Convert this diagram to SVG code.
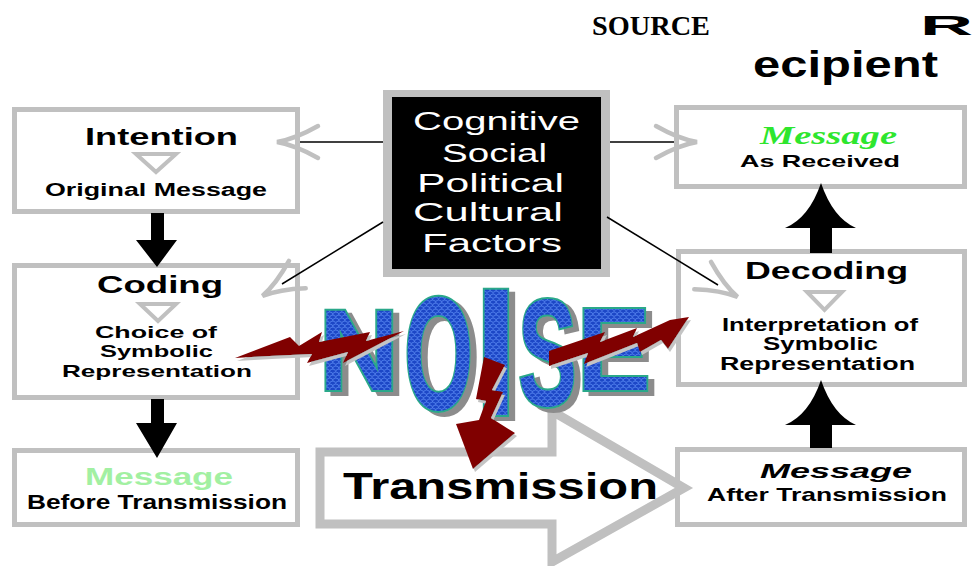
<svg xmlns="http://www.w3.org/2000/svg" width="978" height="566" viewBox="0 0 978 566">
  <style>
    .box { fill: #ffffff; stroke: #c0c0c0; stroke-width: 5; }
    .tri { fill: none; stroke: #c0c0c0; stroke-width: 4; stroke-linejoin: miter; }
    .lbl { font-family: "Liberation Sans", Arial, sans-serif; font-weight: bold; fill: #000; }
    .fac { font-family: "Liberation Sans", Arial, sans-serif; font-size: 26px; fill: #ffffff; }
    .link { stroke: #000; stroke-width: 1.5; fill: none; }
    .blk { fill: #000; }
    .bolt { fill: #800000; }
    .noise { font-family: "Liberation Sans", Arial, sans-serif; font-weight: bold; fill: url(#scales); stroke: #2aa88a; stroke-width: 4; paint-order: stroke; }
  </style>
  <defs>
    <!-- open grey chevron used at the end of each factor link -->
    <marker id="chev" markerUnits="userSpaceOnUse" viewBox="-46 -20 50 40" markerWidth="50" markerHeight="40" refX="-23" refY="0" orient="auto" overflow="visible">
      <path d="M-41,-16 Q-18,-3 0,0 Q-18,3 -41,16" fill="none" stroke="#c0c0c0" stroke-width="4.5" stroke-linecap="round"/>
    </marker>
    <!-- blue scale texture for the NOISE lettering (drawn in the x-compressed text space) -->
    <pattern id="scales" patternUnits="userSpaceOnUse" width="11" height="6">
      <rect width="11" height="6" fill="#1d46c6"/>
      <path d="M0,3 A5.5,3 0 0 1 11,3 M-5.5,6 A5.5,3 0 0 1 5.5,6 M5.5,6 A5.5,3 0 0 1 16.5,6" fill="none" stroke="#5d8ef5" stroke-width="0.9"/>
    </pattern>
    <filter id="dropGray" x="-10%" y="-10%" width="130%" height="130%">
      <feFlood flood-color="#8c8c8c"/>
      <feComposite in2="SourceAlpha" operator="in"/>
      <feOffset dx="6" dy="4" result="sh"/>
      <feMerge><feMergeNode in="sh"/><feMergeNode in="SourceGraphic"/></feMerge>
    </filter>
    <filter id="dropLight" x="-10%" y="-10%" width="130%" height="130%">
      <feFlood flood-color="#c4c4c4"/>
      <feComposite in2="SourceAlpha" operator="in"/>
      <feOffset dx="2" dy="3" result="sh"/>
      <feMerge><feMergeNode in="sh"/><feMergeNode in="SourceGraphic"/></feMerge>
    </filter>
  </defs>

  <rect width="978" height="566" fill="#ffffff"/>

  <!-- headings -->
  <g id="heading-source">
    <text x="592" y="35" font-family="'Liberation Serif', 'Times New Roman', serif" font-weight="bold" font-size="28" textLength="118" lengthAdjust="spacingAndGlyphs">SOURCE</text>
  </g>
  <g id="heading-recipient">
    <text class="lbl" x="920" y="35" font-size="28" textLength="53" lengthAdjust="spacingAndGlyphs">R</text>
    <text class="lbl" x="753" y="77" font-size="36" textLength="185" lengthAdjust="spacingAndGlyphs">ecipient</text>
  </g>

  <!-- source side -->
  <g id="intention">
    <rect class="box" x="14.5" y="109.5" width="283" height="102"/>
    <text class="lbl" x="85" y="145" font-size="24" textLength="153" lengthAdjust="spacingAndGlyphs">Intention</text>
    <path class="tri" d="M136,154 H176 L156,172 Z"/>
    <text class="lbl" x="45" y="196" font-size="18" textLength="222" lengthAdjust="spacingAndGlyphs">Original Message</text>
  </g>
  <g id="coding">
    <rect class="box" x="14.5" y="265.5" width="283" height="132"/>
    <text class="lbl" x="97" y="293" font-size="24" textLength="126" lengthAdjust="spacingAndGlyphs">Coding</text>
    <path class="tri" d="M140,304 H176 L158,321 Z"/>
    <text class="lbl" x="95" y="338" font-size="17" textLength="122" lengthAdjust="spacingAndGlyphs">Choice of</text>
    <text class="lbl" x="100" y="357" font-size="17" textLength="113" lengthAdjust="spacingAndGlyphs">Symbolic</text>
    <text class="lbl" x="62" y="377" font-size="17" textLength="190" lengthAdjust="spacingAndGlyphs">Representation</text>
  </g>
  <g id="before-transmission">
    <rect class="box" x="14.5" y="450.5" width="283" height="74"/>
    <text class="lbl" x="85" y="485" font-size="23" style="fill:#a2f0a2" textLength="148" lengthAdjust="spacingAndGlyphs">Message</text>
    <text class="lbl" x="27" y="509" font-size="21" textLength="260" lengthAdjust="spacingAndGlyphs">Before Transmission</text>
  </g>

  <!-- recipient side -->
  <g id="as-received">
    <rect class="box" x="676.5" y="107.5" width="288" height="79"/>
    <text x="760" y="144" font-family="'Liberation Serif', 'Times New Roman', serif" font-weight="bold" font-style="italic" font-size="25" fill="#2ee62e" textLength="137" lengthAdjust="spacingAndGlyphs">Message</text>
    <text class="lbl" x="740" y="167" font-size="17" textLength="160" lengthAdjust="spacingAndGlyphs">As Received</text>
  </g>
  <g id="decoding">
    <rect class="box" x="678.5" y="251.5" width="286" height="133"/>
    <text class="lbl" x="745" y="279" font-size="23" textLength="163" lengthAdjust="spacingAndGlyphs">Decoding</text>
    <path class="tri" d="M807,292 H842 L824.5,310 Z"/>
    <text class="lbl" x="722" y="331" font-size="18" textLength="196" lengthAdjust="spacingAndGlyphs">Interpretation of</text>
    <text class="lbl" x="763" y="350" font-size="18" textLength="115" lengthAdjust="spacingAndGlyphs">Symbolic</text>
    <text class="lbl" x="720" y="370" font-size="18" textLength="195" lengthAdjust="spacingAndGlyphs">Representation</text>
  </g>
  <g id="after-transmission">
    <rect class="box" x="677.5" y="449.5" width="287" height="75"/>
    <text class="lbl" x="760" y="478" font-size="21" font-style="italic" textLength="152" lengthAdjust="spacingAndGlyphs">Message</text>
    <text class="lbl" x="707" y="501" font-size="19" textLength="240" lengthAdjust="spacingAndGlyphs">After Transmission</text>
  </g>

  <!-- central influences -->
  <g id="factors">
    <rect x="383" y="90" width="227" height="187" fill="#c0c0c0"/>
    <rect x="392" y="97" width="209" height="172" fill="#000000"/>
    <text class="fac" x="413" y="130" textLength="167" lengthAdjust="spacingAndGlyphs">Cognitive</text>
    <text class="fac" x="442" y="162" textLength="105" lengthAdjust="spacingAndGlyphs">Social</text>
    <text class="fac" x="417" y="192" textLength="147" lengthAdjust="spacingAndGlyphs">Political</text>
    <text class="fac" x="413" y="221" textLength="150" lengthAdjust="spacingAndGlyphs">Cultural</text>
    <text class="fac" x="422" y="252" textLength="140" lengthAdjust="spacingAndGlyphs">Factors</text>
  </g>

  <!-- connectors -->
  <g id="connectors">
    <line class="link" x1="383" y1="142" x2="300" y2="142" marker-end="url(#chev)"/>
    <line class="link" x1="610" y1="142" x2="674" y2="142" marker-end="url(#chev)"/>
    <line class="link" x1="383" y1="222" x2="282" y2="284" marker-end="url(#chev)"/>
    <line class="link" x1="607" y1="217" x2="718" y2="285" marker-end="url(#chev)"/>
    <!-- flow arrows -->
    <path class="blk" d="M151,213 H164 V240 H177 L157,267 L136,240 H151 Z"/>
    <path class="blk" d="M151,399 H164 V423 H177 L157,458 L136,423 H151 Z"/>
    <path class="blk" d="M810,253 V228 H785 Q809,218 821,183 Q833,218 856,228 H832 V253 Z"/>
    <path class="blk" d="M810,448 V425 H785 Q809,415 821,380 Q833,415 856,425 H832 V448 Z"/>
    <!-- transmission channel -->
    <path d="M320,452 H552 V411 L684,488 L552,562 V524 H320 Z" fill="none" stroke="#c0c0c0" stroke-width="9" stroke-linejoin="miter"/>
  </g>

  <g id="transmission">
    <text class="lbl" x="343" y="499" font-size="36" textLength="315" lengthAdjust="spacingAndGlyphs">Transmission</text>
  </g>

  <!-- noise: lettering set in an x-compressed space (scale 0.55) -->
  <g id="noise" filter="url(#dropGray)">
    <text class="noise" transform="scale(0.55,1)"><tspan x="580" y="390" font-size="115" textLength="145" lengthAdjust="spacingAndGlyphs">N</tspan><tspan x="734.5" y="409" font-size="162">O</tspan><tspan x="861.8" y="415" font-size="182" textLength="80" lengthAdjust="spacingAndGlyphs">I</tspan><tspan x="941.8" y="406" font-size="152" textLength="107" lengthAdjust="spacingAndGlyphs">S</tspan><tspan x="1049" y="390" font-size="116" textLength="134" lengthAdjust="spacingAndGlyphs">E</tspan></text>
  </g>

  <!-- interference bolts -->
  <g id="bolts" filter="url(#dropLight)">
    <path class="bolt" d="M235,358 L290,337 L299,346 L322,332 L319,342 L370,332 L366,341 L404,331 L343,363 L348,352 L307,363 L312,354 L270,356 Z"/>
    <path class="bolt" d="M549,351 L605,332 L600,342 L637,328 L633,337 L670,320 L689,317 L668,349 L661,340 L640,352 L637,343 L584,364 L588,353 L549,366 Z"/>
    <path class="bolt" d="M484,357 L505,365 L492,390 L503,392 L491,418 L515,433 L473,469 L456,424 L479,420 L486,401 L476,399 Z"/>
  </g>
</svg>
